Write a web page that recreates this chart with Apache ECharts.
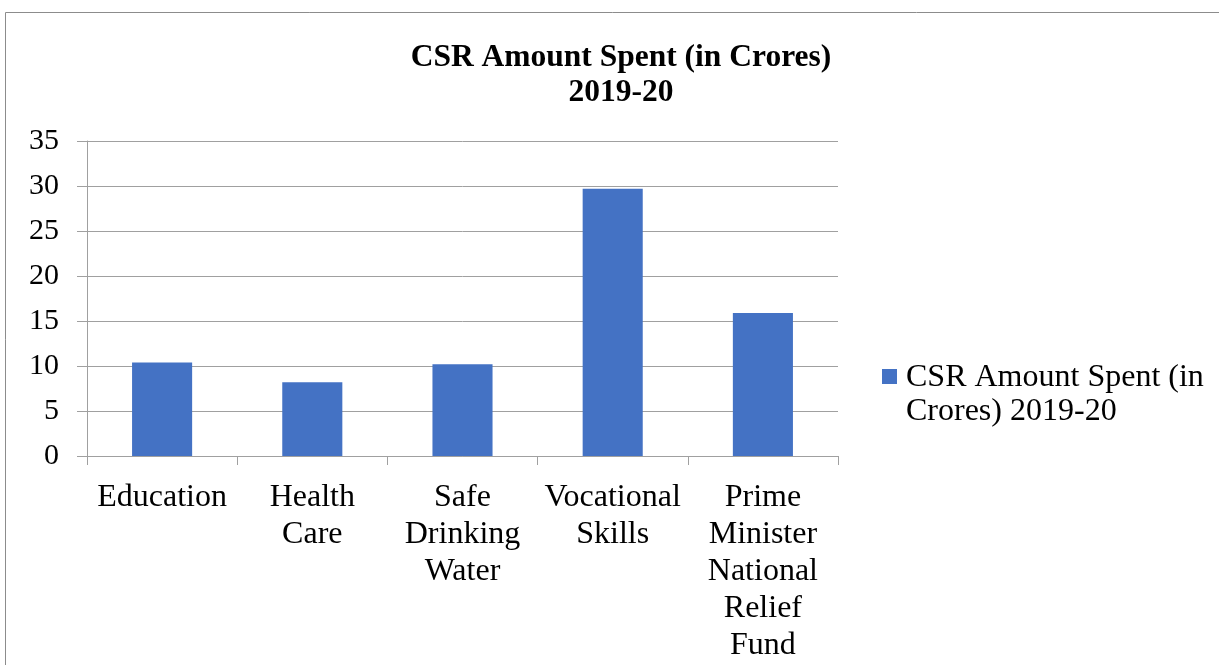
<!DOCTYPE html>
<html>
<head>
<meta charset="utf-8">
<script src="https://cdn.jsdelivr.net/npm/echarts@6/dist/echarts.min.js"></script>
<style>html,body{margin:0;padding:0;background:#fff}#c{width:1219px;height:665px}</style>
</head>
<body>
<div id="c"></div>
<script>
var categories = ['Education', 'Health\nCare', 'Safe\nDrinking\nWater', 'Vocational\nSkills', 'Prime\nMinister\nNational\nRelief\nFund'];
var values = [10.4, 8.2, 10.2, 29.7, 15.9];
var seriesName = 'CSR Amount Spent (in Crores) 2019-20';
var titleText = 'CSR Amount Spent (in Crores)\n2019-20';
var legendLabel = 'CSR Amount Spent (in\nCrores) 2019-20';

var FONT = "'Liberation Serif', 'Times New Roman', serif";
// legend icon: 15x15 square placed beside the first text line inside a 19x68 box
var legendIcon = 'path://M0,8h15v15h-15z M0,0h0.01v0.01h-0.01z M18.99,67.99h0.01v0.01h-0.01z';
var chart = echarts.init(document.getElementById('c'), null, {renderer: 'canvas'});
chart.setOption({
  backgroundColor: '#fff',
  animation: false,
  graphic: [{
    type: 'rect', silent: true,
    shape: {x: 5.5, y: 12.5, width: 1400, height: 800},
    style: {fill: 'none', stroke: '#8c8c8c', lineWidth: 1}
  }],
  title: {
    text: titleText,
    left: 616, top: 35, textAlign: 'center',
    textStyle: {fontFamily: FONT, fontSize: 31.5, fontWeight: 'bold', color: '#000', lineHeight: 35, align: 'center'}
  },
  legend: {
    left: 877, top: 356, orient: 'vertical',
    itemWidth: 19, itemHeight: 68, itemGap: 10,
    icon: legendIcon,
    formatter: function () { return legendLabel; },
    textStyle: {fontFamily: FONT, fontSize: 32, color: '#000', lineHeight: 34}
  },
  grid: {left: 87, right: 381, top: 141, bottom: 209, containLabel: false},
  xAxis: {
    type: 'category', data: categories,
    axisLine: {lineStyle: {color: '#a0a0a0', width: 1}},
    axisTick: {show: true, length: 9, lineStyle: {color: '#a0a0a0'}},
    axisLabel: {interval: 0, margin: 23, fontFamily: FONT, fontSize: 32, color: '#000', lineHeight: 37, align: 'center'}
  },
  yAxis: {
    type: 'value', min: 0, max: 35, interval: 5,
    axisLine: {show: true, lineStyle: {color: '#a0a0a0', width: 1}},
    axisTick: {show: true, length: 10, lineStyle: {color: '#a0a0a0'}},
    splitLine: {lineStyle: {color: '#a0a0a0', width: 1}},
    axisLabel: {margin: 28, fontFamily: FONT, fontSize: 30, color: '#000'}
  },
  series: [{
    name: seriesName, type: 'bar', data: values, barWidth: '40%',
    itemStyle: {color: '#4472c4'}
  }]
});
</script>
</body>
</html>
